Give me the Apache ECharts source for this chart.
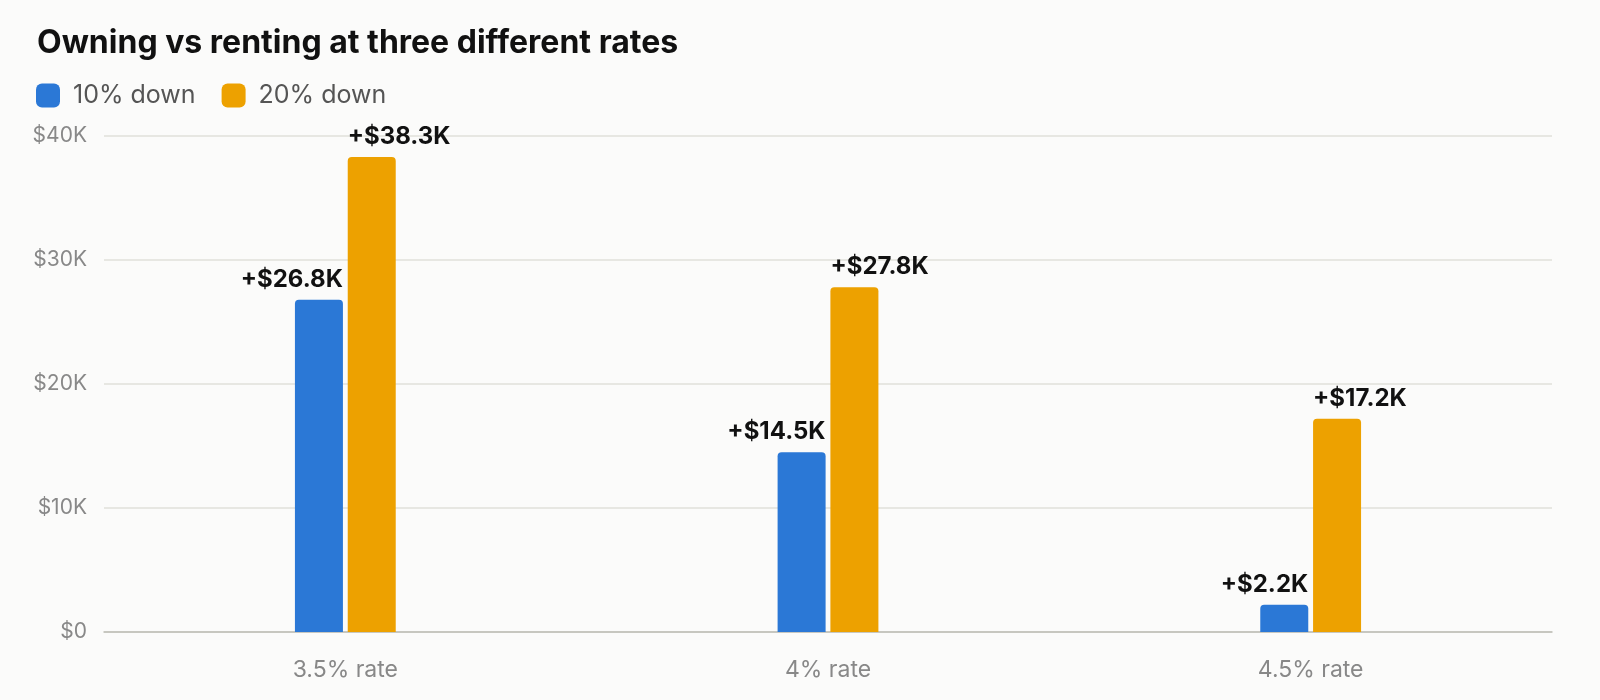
<!DOCTYPE html>
<html>
<head>
<meta charset="utf-8">
<script src="https://cdn.jsdelivr.net/npm/echarts@6/dist/echarts.min.js"></script>
<style>
  html, body { margin: 0; padding: 0; background: #fbfbfa; }
  #chart { width: 1600px; height: 700px; }
</style>
</head>
<body>
<div id="chart"></div>
<script>
var categories = ['3.5% rate', '4% rate', '4.5% rate'];
var down10 = [26800, 14500, 2200];
var down20 = [38300, 27800, 17200];
var seriesNames = ['10% down', '20% down'];

var FONT = 'Inter, "Noto Sans", sans-serif';

function kLabel(p) {
	return '+$' + (p.value / 1000).toFixed(1) + 'K';
}

var option = {
	backgroundColor : '#fbfbfa',
	textStyle : { fontFamily : FONT },
	title : {
		text : 'Owning vs renting at three different rates',
		left : 37,
		top : 27,
		padding : 0,
		textStyle : {
			fontFamily : FONT,
			fontSize : 32,
			fontWeight : 'bold',
			color : '#111'
		}
	},
	legend : {
		left : 36,
		top : 83,
		padding : 0,
		itemWidth : 24,
		itemHeight : 24,
		itemGap : 26,
		icon : 'roundRect',
		data : seriesNames,
		textStyle : {
			fontFamily : FONT,
			fontSize : 25,
			color : '#555',
			padding : [0, 0, 0, 8]
		}
	},
	grid : {
		left : 104,
		right : 48,
		top : 136,
		bottom : 68
	},
	xAxis : {
		type : 'category',
		data : categories,
		axisTick : { show : false },
		axisLine : { lineStyle : { color : '#bdbdb5', width : 1.5 } },
		axisLabel : {
			margin : 27,
			fontFamily : FONT,
			fontSize : 23,
			color : '#888'
		}
	},
	yAxis : {
		type : 'value',
		min : 0,
		max : 40000,
		interval : 10000,
		axisLabel : {
			margin : 17,
			fontFamily : FONT,
			fontSize : 21,
			color : '#888',
			formatter : function(v) {
				return v === 0 ? '$0' : '$' + v / 1000 + 'K';
			}
		},
		splitLine : { lineStyle : { color : '#e0e0da', width : 1.5 } }
	},
	series : [{
		name : seriesNames[0],
		type : 'bar',
		data : down10,
		barWidth : 48,
		barGap : '10%',
		itemStyle : { color : '#2b78d6', borderRadius : [4, 4, 0, 0] },
		label : {
			show : true,
			position : 'top',
			distance : 8,
			align : 'right',
			offset : [24, 0],
			formatter : kLabel,
			fontFamily : FONT,
			fontSize : 24,
			fontWeight : 'bold',
			color : '#111'
		}
	}, {
		name : seriesNames[1],
		type : 'bar',
		data : down20,
		barWidth : 48,
		itemStyle : { color : '#eda100', borderRadius : [4, 4, 0, 0] },
		label : {
			show : true,
			position : 'top',
			distance : 8,
			align : 'left',
			offset : [-24, 0],
			formatter : kLabel,
			fontFamily : FONT,
			fontSize : 24,
			fontWeight : 'bold',
			color : '#111'
		}
	}]
};

var chart = echarts.init(document.getElementById('chart'));
chart.setOption(option);
</script>
</body>
</html>
